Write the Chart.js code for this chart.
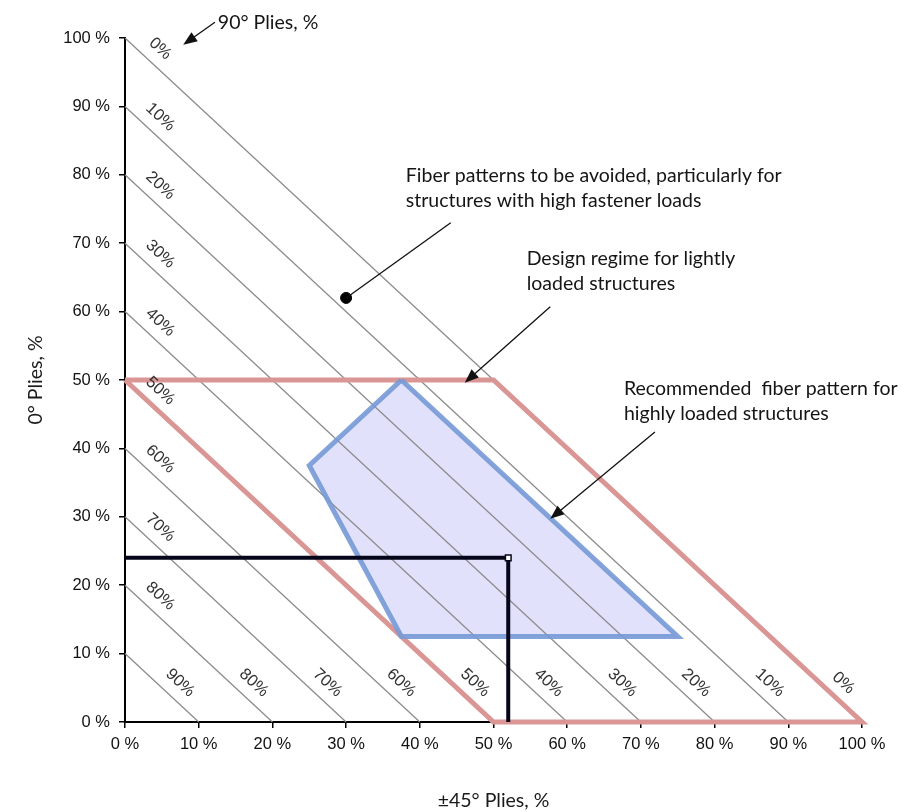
<!DOCTYPE html>
<html>
<head>
<meta charset="utf-8">
<script src="https://cdn.jsdelivr.net/npm/chart.js@4/dist/chart.umd.min.js"></script>
<style>
  html, body { margin: 0; padding: 0; background: #fff; }
  #wrap { width: 916px; height: 812px; position: relative; }
</style>
</head>
<body>
<div id="wrap"><canvas id="c"></canvas></div>
<script>
// Axis ticks, percent of plies
const axisTicks = [0, 10, 20, 30, 40, 50, 60, 70, 80, 90, 100];

// Lines of constant 90° ply content: (±45 %) + (0 %) = 100 - p
const plies90 = [0, 10, 20, 30, 40, 50, 60, 70, 80, 90];
const leftLabelPlies = [0, 10, 20, 30, 40, 50, 60, 70, 80];
const bottomLabelPlies = [90, 80, 70, 60, 50, 40, 30, 20, 10, 0];

// Design regime for lightly loaded structures
const designX = [0, 50, 100, 50, 0];
const designY = [50, 50, 0, 0, 50];

// Recommended fiber pattern for highly loaded structures
const recX = [37.5, 25, 37.5, 75, 37.5];
const recY = [50, 37.5, 12.5, 12.5, 50];

// Example laminate: 52 % ±45° plies, 24 % 0° plies
const exampleX = [0, 52, 52];
const exampleY = [24, 24, 0];

// Marker inside the region to be avoided
const avoidX = [30];
const avoidY = [62];

// Callout texts with their leader lines (in axis units)
const notes = [
  { text: ['Fiber patterns to be avoided, particularly for', 'structures with high fastener loads'],
    at: [38.1, 79.8], from: [44.2, 73.0], to: [30, 62], head: false },
  { text: ['Design regime for lightly', 'loaded structures'],
    at: [54.5, 67.8], from: [57.7, 60.7], to: [46.1, 49.6], head: true },
  { text: ['Recommended  fiber pattern for', 'highly loaded structures'],
    at: [67.7, 48.7], from: [71.9, 42.4], to: [57.7, 29.7], head: true },
  { text: ['90° Plies, %'],
    at: [12.6, 102.3], from: [12.2, 102.3], to: [7.9, 99.0], head: true }
];

const pts = (xs, ys) => xs.map((v, i) => ({ x: v, y: ys[i] }));

const datasets = [];

// light fill of the recommended region, lowest layer
datasets.push({
  data: pts(recX, recY), showLine: true, fill: 'shape',
  backgroundColor: 'rgba(200,200,250,0.55)', borderWidth: 0,
  pointRadius: 0, order: 10, clip: false
});

// constant 90° ply lines
plies90.forEach(p => {
  datasets.push({
    data: [{ x: 0, y: 100 - p }, { x: 100 - p, y: 0 }],
    showLine: true, borderColor: '#8c8c8c', borderWidth: 1.3,
    pointRadius: 0, fill: false, order: 8, clip: false
  });
});

// design regime outline
datasets.push({
  data: pts(designX, designY), showLine: true, fill: false,
  borderColor: '#d99694', borderWidth: 5, borderJoinStyle: 'miter',
  pointRadius: 0, order: 6, clip: false
});

// recommended region outline
datasets.push({
  data: pts(recX, recY), showLine: true, fill: false,
  borderColor: 'rgba(118,153,214,0.9)', borderWidth: 5, borderJoinStyle: 'miter',
  pointRadius: 0, order: 5, clip: false
});

// example laminate lines
datasets.push({
  data: pts(exampleX, exampleY), showLine: true, fill: false,
  borderColor: '#05051a', borderWidth: 4, borderJoinStyle: 'miter',
  pointStyle: 'rect', pointRadius: [0, 4, 0],
  pointBackgroundColor: '#ffffff', pointBorderColor: '#05051a', pointBorderWidth: 1.5,
  order: 2, clip: false
});

// avoided-region marker
datasets.push({
  data: pts(avoidX, avoidY), showLine: false,
  pointRadius: 5.5, pointBackgroundColor: '#000', pointBorderColor: '#000',
  order: 1, clip: false
});

const overlay = {
  id: 'overlay',
  afterDatasetsDraw(chart) {
    const { ctx, scales: { x, y } } = chart;
    ctx.save();
    ctx.font = '16.5px "Liberation Sans", Arial, sans-serif';
    ctx.fillStyle = '#333333';
    ctx.textAlign = 'center';
    ctx.textBaseline = 'middle';
    const place = (p, ax, ay) => {
      const c = 100 - p;
      const a = Math.atan2(y.getPixelForValue(0) - y.getPixelForValue(c),
                           x.getPixelForValue(c) - x.getPixelForValue(0));
      const px = x.getPixelForValue(ax) + Math.sin(a) * 16;
      const py = y.getPixelForValue(ay) - Math.cos(a) * 16;
      ctx.save();
      ctx.translate(px, py);
      ctx.rotate(a);
      ctx.fillText(p + '%', 0, 0);
      ctx.restore();
    };
    leftLabelPlies.forEach(p => place(p, 3.3, 100 - p - 3.3));
    bottomLabelPlies.forEach(p => place(p, 100 - p - 4, 4));
    ctx.restore();
  },
  afterDraw(chart) {
    const { ctx, scales: { x, y } } = chart;
    ctx.save();
    notes.forEach(n => {
      // leader line
      const fx = x.getPixelForValue(n.from[0]), fy = y.getPixelForValue(n.from[1]);
      const tx = x.getPixelForValue(n.to[0]), ty = y.getPixelForValue(n.to[1]);
      const a = Math.atan2(ty - fy, tx - fx);
      const len = n.head ? 14 : 0;
      ctx.strokeStyle = '#111';
      ctx.lineWidth = 1.3;
      ctx.beginPath();
      ctx.moveTo(fx, fy);
      ctx.lineTo(tx - Math.cos(a) * len * 0.8, ty - Math.sin(a) * len * 0.8);
      ctx.stroke();
      if (n.head) {
        ctx.fillStyle = '#111';
        ctx.beginPath();
        ctx.moveTo(tx, ty);
        ctx.lineTo(tx - Math.cos(a) * len + Math.sin(a) * 5.5, ty - Math.sin(a) * len - Math.cos(a) * 5.5);
        ctx.lineTo(tx - Math.cos(a) * len - Math.sin(a) * 5.5, ty - Math.sin(a) * len + Math.cos(a) * 5.5);
        ctx.closePath();
        ctx.fill();
      }
      // text
      ctx.fillStyle = '#151515';
      ctx.font = '19.5px Lato, "Open Sans", sans-serif';
      ctx.textAlign = 'left';
      ctx.textBaseline = 'middle';
      const tx0 = x.getPixelForValue(n.at[0]), ty0 = y.getPixelForValue(n.at[1]);
      n.text.forEach((t, i) => ctx.fillText(t, tx0, ty0 + i * 25));
    });
    ctx.restore();
  }
};

const tickFont = { family: '"Liberation Sans", Arial, sans-serif', size: 16.5 };
const titleFont = { family: 'Lato, "Open Sans", sans-serif', size: 19.5 };

new Chart(document.getElementById('c'), {
  type: 'scatter',
  data: { datasets },
  options: {
    responsive: true,
    maintainAspectRatio: false,
    animation: false,
    events: [],
    layout: { padding: { top: 38, right: 54, left: 0, bottom: 0 } },
    plugins: { legend: { display: false }, tooltip: { enabled: false } },
    scales: {
      x: {
        type: 'linear', min: 0, max: 100,
        afterBuildTicks: s => { s.ticks = axisTicks.map(v => ({ value: v })); },
        afterFit: s => { s.height = 90; },
        ticks: { callback: v => v + ' %', color: '#111', font: tickFont, padding: 7, maxRotation: 0 },
        grid: { display: true, drawOnChartArea: false, drawTicks: true, tickLength: 6, color: '#000', lineWidth: 1.5 },
        border: { display: true, color: '#000', width: 2 },
        title: { display: true, text: '±45° Plies, %', color: '#1a1a1a', font: titleFont, padding: { bottom: 0 } }
      },
      y: {
        type: 'linear', min: 0, max: 100,
        afterBuildTicks: s => { s.ticks = axisTicks.map(v => ({ value: v })); },
        afterFit: s => { s.width = 125; },
        ticks: { callback: v => v + ' %', color: '#111', font: tickFont, padding: 9 },
        grid: { display: true, drawOnChartArea: false, drawTicks: true, tickLength: 6, color: '#000', lineWidth: 1.5 },
        border: { display: true, color: '#000', width: 2 },
        title: { display: true, text: '0° Plies, %', color: '#1a1a1a', font: titleFont, padding: { top: 24 } }
      }
    }
  },
  plugins: [overlay]
});
</script>
</body>
</html>
